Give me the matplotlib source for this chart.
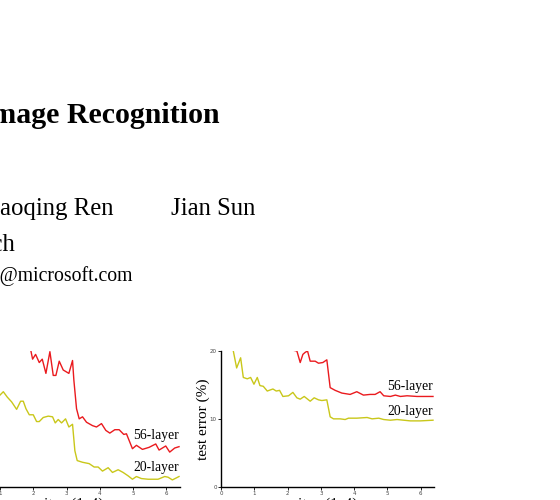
import matplotlib
matplotlib.use("Agg")
import matplotlib.pyplot as plt

# curves, x in 1e4 iterations, y in %
train20_x = [1.0, 1.1, 1.22, 1.35, 1.5, 1.62, 1.7, 1.78, 1.88, 2.0, 2.1, 2.18, 2.3, 2.45,
             2.58, 2.66, 2.75, 2.85, 2.97, 3.07, 3.18, 3.25, 3.32, 3.48, 3.68, 3.83, 3.95,
             4.08, 4.25, 4.38, 4.55, 4.7, 4.85, 4.98, 5.1, 5.25, 5.45, 5.75, 5.95, 6.05,
             6.18, 6.3, 6.38]
train20_y = [13.5, 14.0, 13.2, 12.5, 11.4, 12.6, 12.6, 11.5, 10.6, 10.6, 9.6, 9.6, 10.2, 10.4,
             10.3, 9.4, 9.9, 9.4, 10.0, 8.8, 9.2, 5.3, 3.85, 3.6, 3.4, 2.9, 2.9,
             2.3, 2.8, 2.1, 2.5, 2.1, 1.6, 1.1, 1.5, 1.2, 1.1, 1.1, 1.5, 1.4,
             1.0, 1.3, 1.5]
train56_x = [1.93, 1.98, 2.07, 2.18, 2.27, 2.38, 2.5, 2.6, 2.68, 2.78, 2.9, 3.07, 3.18, 3.22,
             3.3, 3.38, 3.48, 3.6, 3.78, 3.9, 4.05, 4.18, 4.3, 4.45, 4.58, 4.72, 4.8,
             4.98, 5.1, 5.28, 5.48, 5.68, 5.78, 5.98, 6.1, 6.25, 6.38]
train56_y = [20.0, 18.8, 19.5, 18.3, 18.8, 16.7, 19.9, 16.4, 16.4, 18.5, 17.2, 16.7, 18.6, 15.7,
             11.5, 10.0, 10.3, 9.5, 9.0, 8.8, 9.3, 8.3, 7.9, 8.4, 8.4, 7.7, 7.8,
             5.6, 6.1, 5.5, 5.8, 6.3, 5.4, 6.0, 5.1, 5.7, 5.9]

test20_x = [0.37, 0.47, 0.59, 0.67, 0.79, 0.89, 0.99, 1.09, 1.17, 1.27, 1.39, 1.56, 1.66,
            1.76, 1.86, 2.03, 2.16, 2.28, 2.38, 2.5, 2.68, 2.8, 2.93, 3.03, 3.18, 3.28,
            3.38, 3.58, 3.73, 3.83, 4.08, 4.39, 4.54, 4.74, 4.89, 5.09, 5.29, 5.49,
            5.69, 5.99, 6.37]
test20_y = [20.0, 17.5, 19.0, 16.1, 15.9, 16.1, 15.1, 16.1, 14.9, 14.8, 14.1, 14.4, 14.1,
            14.2, 13.3, 13.4, 13.9, 13.1, 12.9, 13.3, 12.6, 13.1, 12.8, 12.7, 12.8, 10.3,
            10.0, 10.0, 9.9, 10.1, 10.1, 10.2, 10.0, 10.1, 9.9, 9.8, 9.9, 9.8,
            9.7, 9.7, 9.8]
test56_x = [2.18, 2.28, 2.38, 2.46, 2.53, 2.6, 2.68, 2.83, 2.93, 3.06, 3.18, 3.28, 3.43,
            3.63, 3.88, 4.08, 4.28, 4.48, 4.63, 4.78, 4.89, 5.09, 5.24, 5.39, 5.59,
            5.89, 6.19, 6.37]
test56_y = [20.1, 20.0, 18.3, 19.5, 19.8, 20.0, 18.5, 18.5, 18.2, 18.3, 18.7, 14.6, 14.2,
            13.8, 13.6, 14.0, 13.5, 13.6, 13.6, 14.0, 13.4, 13.3, 13.5, 13.3, 13.4,
            13.3, 13.3, 13.3]

xticks = [0, 1, 2, 3, 4, 5, 6]
yticks = [0, 10, 20]

RED = "#ea1a1e"
YELLOW = "#c9c71a"
serif = ["Liberation Serif", "DejaVu Serif"]

fig = plt.figure(figsize=(5.6, 5.0), dpi=100)

# page text above the plots (cut by the crop on the left)
fig.text(220 / 560, 1 - 122.7 / 500, "Deep Residual Learning for Image Recognition",
         family=serif, weight="bold", fontsize=21.5, ha="right", va="baseline")
fig.text(113 / 560, 1 - 215 / 500, "Shaoqing Ren", family=serif, fontsize=17.8,
         ha="right", va="baseline")
fig.text(171 / 560, 1 - 215 / 500, "Jian Sun", family=serif, fontsize=17.8,
         ha="left", va="baseline")
fig.text(15 / 560, 1 - 251 / 500, "Microsoft Research", family=serif, fontsize=17.8,
         ha="right", va="baseline")
fig.text(132 / 560, 1 - 280.5 / 500, "{kahe, v-xiangz, v-shren, jiansun}@microsoft.com",
         family=serif, fontsize=14.2, ha="right", va="baseline")


def setup(ax, ylabel):
    ax.set_xlim(0, 6.4)
    ax.set_ylim(0, 20)
    ax.set_xticks(xticks)
    ax.set_yticks(yticks)
    for s in ["top", "right"]:
        ax.spines[s].set_visible(False)
    for s in ["left", "bottom"]:
        ax.spines[s].set_linewidth(1.0)
    ax.tick_params(labelsize=4, length=2, width=0.6, pad=1, labelcolor="#444444")
    ax.set_xlabel("iter. (1e4)", family=serif, fontsize=11)
    ax.xaxis.set_label_coords(0.5, -0.08)
    ax.set_ylabel(ylabel, family=serif, fontsize=11)
    ax.yaxis.set_label_coords(-0.053, 0.5)


ax1 = fig.add_axes([-33.3 / 560, 13.3 / 500, 213 / 560, 135.7 / 500])
ax1.plot(train20_x, train20_y, color=YELLOW, lw=1.0)
ax1.plot(train56_x, train56_y, color=RED, lw=1.0)
setup(ax1, "training error (%)")
ax1.text(6.37, 7.0, "56-layer", family=serif, fontsize=9.8, ha="right", va="baseline")
ax1.text(6.37, 2.27, "20-layer", family=serif, fontsize=9.8, ha="right", va="baseline")

ax2 = fig.add_axes([221 / 560, 13.3 / 500, 213 / 560, 135.7 / 500])
ax2.plot(test20_x, test20_y, color=YELLOW, lw=1.0)
ax2.plot(test56_x, test56_y, color=RED, lw=1.0)
setup(ax2, "test error (%)")
ax2.text(6.36, 14.2, "56-layer", family=serif, fontsize=9.8, ha="right", va="baseline")
ax2.text(6.36, 10.5, "20-layer", family=serif, fontsize=9.8, ha="right", va="baseline")

fig.savefig("out.png", dpi=100)
